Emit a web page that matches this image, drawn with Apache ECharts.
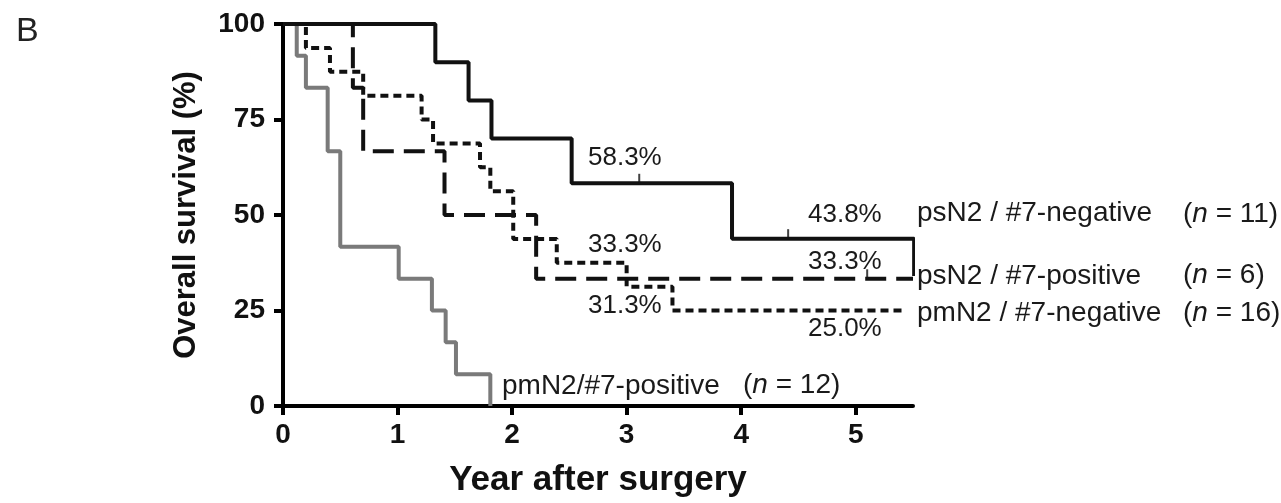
<!DOCTYPE html>
<html>
<head>
<meta charset="utf-8">
<script src="https://cdn.jsdelivr.net/npm/echarts@6/dist/echarts.min.js"></script>
<style>
html,body{margin:0;padding:0;background:#fff;}
#c{width:1281px;height:503px;}
</style>
</head>
<body>
<div id="c"></div>
<script>
// Kaplan-Meier step points: [year, survival %]
var psN2Neg = [[0,100],[1.33,90],[1.62,80],[1.82,70],[2.52,58.3],[3.92,43.8],[5.51,43.8],[5.51,34]];
var psN2Pos = [[0,100],[0.61,83.3],[0.70,66.7],[1.41,50],[2.21,33.3],[5.5,33.3]];
var pmN2Neg = [[0,100],[0.20,93.75],[0.41,87.5],[0.70,81.25],[1.21,75],[1.31,68.75],[1.72,62.5],[1.81,56.25],[2.01,43.75],[2.39,37.5],[3.0,31.25],[3.4,25],[5.42,25]];
var pmN2Pos = [[0,100],[0.12,91.7],[0.20,83.3],[0.39,66.7],[0.50,41.7],[1.01,33.3],[1.30,25],[1.42,16.7],[1.51,8.3],[1.81,0]];
// censored observations
var censorNeg = [[3.11,58.3],[4.41,43.8]];
var censorPos = [[5.1,33.3]];
var xTicks = [0,1,2,3,4,5];
var yTicks = [0,25,50,75,100];
var pctLabels = ['58.3%','43.8%','33.3%','33.3%','31.3%','25.0%'];
var groupNames = ['psN2 / #7-negative','psN2 / #7-positive','pmN2 / #7-negative','pmN2/#7-positive'];
var groupN = [11,6,16,12];

var chart = echarts.init(document.getElementById('c'));
var F = '"Liberation Sans", Arial, sans-serif';
function txt(x, y, s, size){
  return {type:'text', left:x, top:y, z:50,
    style:{text:s, font:size + 'px ' + F, fill:'#1a1a1a',
      rich:{i:{fontStyle:'italic', fontSize:size, fontFamily:F, fill:'#1a1a1a'}}}};
}
function nLab(n){ return '({i|n} = ' + n + ')'; }
var P = 26, G = 28;

var option = {
  backgroundColor:'#fff',
  animation:false,
  grid:{left:283, right:368, top:24, bottom:95, containLabel:false},
  xAxis:{
    type:'value', min:0, max:5.5, interval:1,
    name:'Year after surgery', nameLocation:'middle', nameGap:57,
    nameTextStyle:{fontFamily:F, fontWeight:'bold', fontSize:35, color:'#111'},
    axisLine:{lineStyle:{color:'#000', width:4}},
    axisTick:{length:9, lineStyle:{color:'#000', width:4}},
    axisLabel:{showMaxLabel:false, margin:15, fontFamily:F, fontWeight:'bold', fontSize:28, color:'#111',
      formatter:function(v){return xTicks.indexOf(v)>=0 ? String(v) : '';}},
    splitLine:{show:false}
  },
  yAxis:{
    type:'value', min:0, max:100, interval:25,
    name:'Overall survival (%)', nameLocation:'middle', nameGap:81,
    nameTextStyle:{fontFamily:F, fontWeight:'bold', fontSize:31, color:'#111'},
    axisLine:{show:true, lineStyle:{color:'#000', width:4}},
    axisTick:{show:true, length:9, lineStyle:{color:'#000', width:4}},
    axisLabel:{margin:18, fontFamily:F, fontWeight:'bold', fontSize:28, color:'#111',
      formatter:function(v){return yTicks.indexOf(v)>=0 ? String(v) : '';}},
    splitLine:{show:false}
  },
  series:[
    {type:'line', step:'end', data:pmN2Pos, symbol:'none', clip:false,
      lineStyle:{color:'#7a7a7a', width:4, cap:'butt'}, z:3},
    {type:'line', step:'end', data:pmN2Neg, symbol:'none', clip:false,
      lineStyle:{color:'#111', width:4, type:[8,5]}, z:4},
    {type:'line', step:'end', data:psN2Pos, symbol:'none', clip:false,
      lineStyle:{color:'#111', width:4, type:[21,10]}, z:5},
    {type:'line', step:'end', data:psN2Neg, symbol:'none', clip:false,
      lineStyle:{color:'#111', width:4}, z:6},
    {type:'scatter', data:censorNeg.concat(censorPos), symbol:'rect', symbolSize:[2,9], symbolOffset:[0,-5],
      itemStyle:{color:'#111'}, z:7}
  ],
  graphic:[
    {type:'text', left:16, top:15, style:{text:'B', font:'34px ' + F, fill:'#222'}},
    txt(588, 145, pctLabels[0], P),
    txt(808, 202, pctLabels[1], P),
    txt(588, 232, pctLabels[2], P),
    txt(808, 249, pctLabels[3], P),
    txt(588, 293, pctLabels[4], P),
    txt(808, 316, pctLabels[5], P),
    txt(917, 199, groupNames[0], G),
    txt(917, 262, groupNames[1], G),
    txt(917, 299, groupNames[2], G),
    txt(502, 372, groupNames[3], G),
    txt(1183, 200, nLab(groupN[0]), G),
    txt(1183, 261, nLab(groupN[1]), G),
    txt(1183, 299, nLab(groupN[2]), G),
    txt(743, 371, nLab(groupN[3]), G)
  ]
};
chart.setOption(option);
</script>
</body>
</html>
